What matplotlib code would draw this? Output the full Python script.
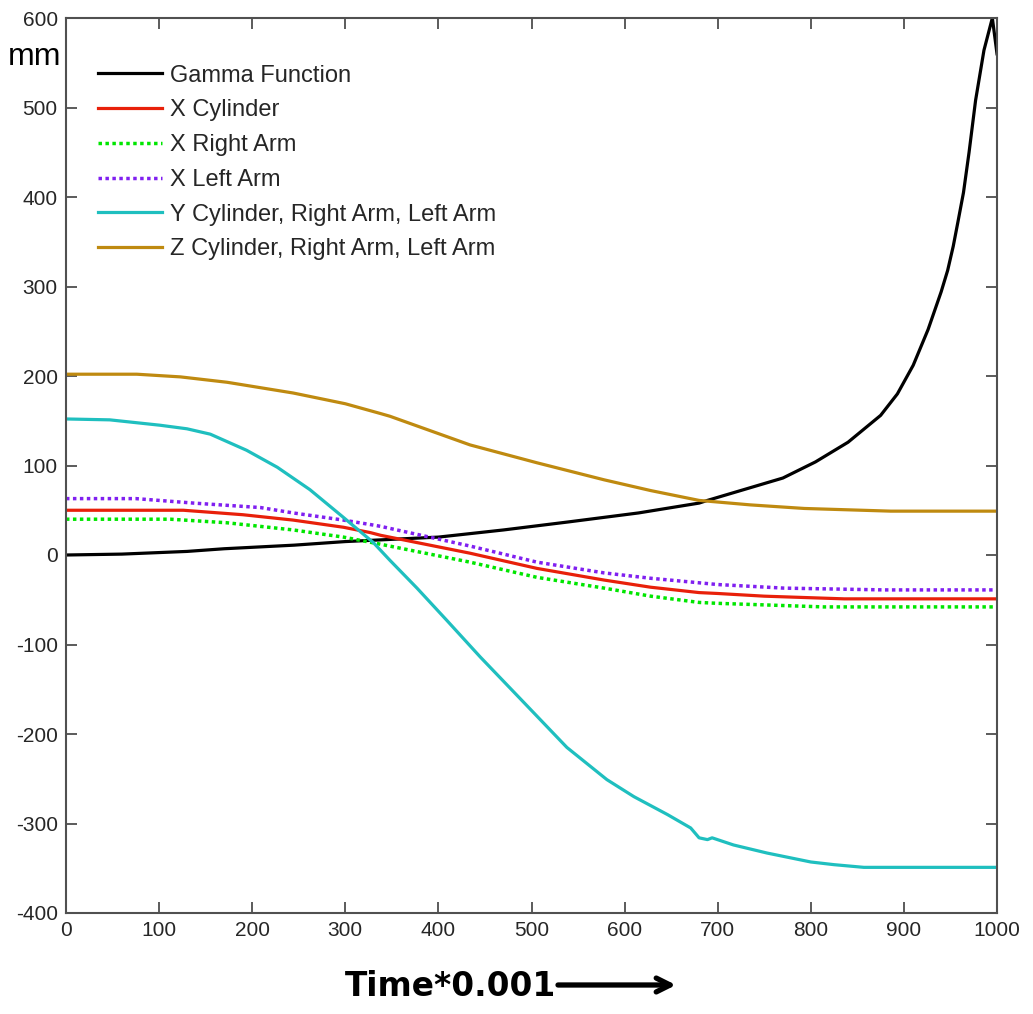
import matplotlib
matplotlib.use("Agg")
import matplotlib.pyplot as plt

# ---------------- data ----------------
gamma_x = [0, 60, 130, 170, 245, 300, 340, 400, 470, 540, 615, 680, 689, 770, 805, 840,
           875, 893, 910, 926, 940, 947, 953, 958, 964, 970, 977, 986, 995, 1000]
gamma_y = [0, 1, 4, 7, 11, 15, 17, 20, 28, 37, 47, 58, 61, 86, 104, 126,
           156, 180, 212, 252, 294, 318, 345, 372, 405, 450, 508, 564, 600, 560]

xcyl_x = [0, 126, 190, 244, 298, 327, 338, 434, 506, 578, 628, 680, 700, 750, 836, 1000]
xcyl_y = [50, 50, 45, 39, 31, 25, 22, 2, -15, -28, -36, -42, -43, -46, -49, -49]

xright_x = [0, 112, 173, 244, 298, 338, 434, 506, 578, 628, 680, 700, 814, 1000]
xright_y = [40, 40, 36, 28, 20, 12, -8, -25, -37, -46, -53, -54, -58, -58]

xleft_x = [0, 75, 137, 209, 244, 298, 327, 338, 434, 506, 578, 628, 700, 771, 879, 1000]
xleft_y = [63, 63, 58, 53, 47, 39, 34, 32, 10, -8, -20, -26, -33, -37, -39, -39]

ycyl_x = [0, 47, 101, 130, 155, 194, 227, 262, 298, 330, 348, 377, 409, 445, 492, 538,
          581, 610, 646, 671, 680, 689, 694, 717, 753, 800, 825, 857, 1000]
ycyl_y = [152, 151, 145, 141, 135, 117, 98, 73, 42, 14, -6, -37, -73, -114, -165, -215,
          -251, -270, -290, -305, -316, -318, -316, -324, -333, -343, -346, -349, -349]

zcyl_x = [0, 76, 123, 173, 244, 300, 338, 348, 434, 506, 578, 628, 680, 735, 793, 886, 1000]
zcyl_y = [202, 202, 199, 193, 181, 169, 158, 155, 123, 103, 84, 72, 61, 56, 52, 49, 49]

labels = ["Gamma Function", "X Cylinder", "X Right Arm", "X Left Arm",
          "Y Cylinder, Right Arm, Left Arm", "Z Cylinder, Right Arm, Left Arm"]
xticks = list(range(0, 1001, 100))
yticks = list(range(-400, 601, 100))

# ---------------- figure ----------------
plt.rcParams['font.family'] = ['Liberation Sans', 'DejaVu Sans']
plt.rcParams['axes.unicode_minus'] = False
fig = plt.figure(figsize=(10.33, 10.14), dpi=100)
ax = fig.add_axes([66 / 1033, 1 - 913 / 1014, (997 - 66) / 1033, (913 - 18) / 1014])

lw = 2.3
ax.plot(gamma_x, gamma_y, color='black', lw=lw, label=labels[0])
ax.plot(xcyl_x, xcyl_y, color='#e8200a', lw=lw, label=labels[1])
ax.plot(xright_x, xright_y, color='#00e600', lw=2.5, linestyle=(0, (1, 1)),
        dash_capstyle='butt', label=labels[2])
ax.plot(xleft_x, xleft_y, color='#8020f0', lw=2.5, linestyle=(0, (1, 1)),
        dash_capstyle='butt', label=labels[3])
ax.plot(ycyl_x, ycyl_y, color='#1fbfbf', lw=lw, label=labels[4])
ax.plot(zcyl_x, zcyl_y, color='#bf8a10', lw=lw, label=labels[5])

ax.set_xlim(0, 1000)
ax.set_ylim(-400, 600)
ax.set_xticks(xticks)
ax.set_yticks(yticks)
ax.tick_params(direction='in', length=8, width=1.2, top=True, right=True,
               labelsize=15, colors='#404040', labelcolor='#262626', pad=6)
for s in ax.spines.values():
    s.set_color('#505050')
    s.set_linewidth(1.5)

leg = ax.legend(loc='upper left', bbox_to_anchor=(0.0344, 0.948), frameon=False,
                fontsize=17, handlelength=2.7, handletextpad=0.34, labelspacing=0.54,
                borderpad=0, borderaxespad=0)
for t in leg.get_texts():
    t.set_color('#262626')

fig.text(8 / 1033, 1 - 65 / 1014, "mm", fontsize=23, ha='left', va='baseline', color='black')
fig.text(345 / 1033, 1 - 986 / 1014, "Time*0.001", fontsize=23.6, fontweight='bold',
         family='DejaVu Sans', ha='left', va='center', color='black')
ax.annotate("", xy=(676 / 1033, 1 - 985 / 1014), xytext=(558 / 1033, 1 - 985 / 1014),
            xycoords='figure fraction', textcoords='figure fraction',
            arrowprops=dict(arrowstyle='->,head_length=1.0,head_width=0.5', lw=3.8,
                            color='black', shrinkA=0, shrinkB=0))

fig.savefig("out.png", dpi=100)
